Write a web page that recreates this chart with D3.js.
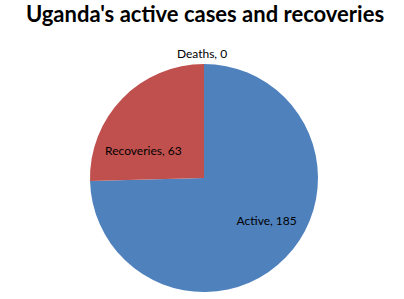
<!DOCTYPE html>
<html>
<head>
<meta charset="utf-8">
<script src="https://cdn.jsdelivr.net/npm/d3@7"></script>
<style>
  body { margin: 0; background: #fff; }
  text { font-family: Lato, "Open Sans", sans-serif; }
</style>
</head>
<body>
<div id="chart"></div>
<script>
const svgWidth = 404;
const svgHeight = 299;

// data
const categories = ["Active", "Recoveries", "Deaths"];
const values = [185, 63, 0];
const colors = ["#4F81BD", "#C0504D", "#9BBB59"];

const cx = 204, cy = 178, radius = 114;

var svg = d3.select("#chart")
    .append("svg")
    .attr("width", svgWidth)
    .attr("height", svgHeight);

// title
svg.append("text")
    .attr("x", svgWidth / 2 + 3)
    .attr("y", 22)
    .attr("text-anchor", "middle")
    .attr("font-weight", "bold")
    .attr("font-size", "22px")
    .attr("fill", "#000")
    .text("Uganda's active cases and recoveries");

var pieData = d3.pie().sort(null)(values)
    .map((p, i) => Object.assign(p, { name: categories[i], color: colors[i] }));

var arc = d3.arc().innerRadius(0).outerRadius(radius);
var labelArc = d3.arc().innerRadius(radius * 0.62).outerRadius(radius * 0.62);
var outerArc = d3.arc().innerRadius(radius * 1.1).outerRadius(radius * 1.1);

var chartGroup = svg.append("g")
    .attr("transform", `translate(${cx}, ${cy})`);

chartGroup.selectAll("path")
    .data(pieData)
    .enter()
    .append("path")
    .attr("d", arc)
    .attr("fill", d => d.color);

// label nudges to mimic "best fit" placement
const nudges = {
    Active: [12, -7],
    Recoveries: [-10, 22],
    Deaths: [-2, 1]
};

chartGroup.selectAll("text.lbl")
    .data(pieData)
    .enter()
    .append("text")
    .attr("class", "lbl")
    .attr("transform", d => {
        var c = d.value === 0 ? outerArc.centroid(d) : labelArc.centroid(d);
        var n = nudges[d.name];
        return `translate(${c[0] + n[0]}, ${c[1] + n[1]})`;
    })
    .attr("text-anchor", "middle")
    .attr("dy", "0.35em")
    .attr("font-size", "12px")
    .attr("fill", "#000")
    .text(d => `${d.name}, ${d.value}`);
</script>
</body>
</html>
